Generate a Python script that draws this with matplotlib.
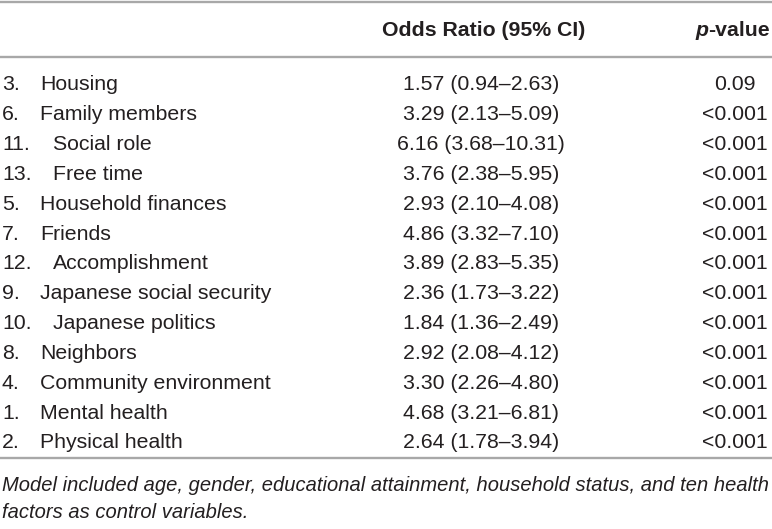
"""Odds ratio table redrawn as a matplotlib figure."""

import matplotlib.pyplot as plt

item_num = [3, 6, 11, 13, 5, 7, 12, 9, 10, 8, 4, 1, 2]
items = [
    "Housing", "Family members", "Social role", "Free time",
    "Household finances", "Friends", "Accomplishment",
    "Japanese social security", "Japanese politics", "Neighbors",
    "Community environment", "Mental health", "Physical health",
]
odds = [1.57, 3.29, 6.16, 3.76, 2.93, 4.86, 3.89, 2.36, 1.84, 2.92, 3.30, 4.68, 2.64]
ci_low = [0.94, 2.13, 3.68, 2.38, 2.10, 3.32, 2.83, 1.73, 1.36, 2.08, 2.26, 3.21, 1.78]
ci_high = [2.63, 5.09, 10.31, 5.95, 4.08, 7.10, 5.35, 3.22, 2.49, 4.12, 4.80, 6.81, 3.94]
p_values = ["0.09"] + ["<0.001"] * 12

footnote = ("Model included age, gender, educational attainment, household status, and ten health\n"
            "factors as control variables.")

W, H = 772, 529
TXT = "#231f20"
RULE = "#a8a8a8"
FS = 15.3

plt.rcParams["font.family"] = ["Liberation Sans", "DejaVu Sans"]

fig = plt.figure(figsize=(W / 100, H / 100), dpi=100)
ax = fig.add_axes([0, 0, 1, 1])
ax.set_xlim(0, W)
ax.set_ylim(H, 0)
ax.set_axis_off()

# horizontal rules
for y in (1.5, 56.5, 458):
    ax.plot([0, W], [y, y], color=RULE, lw=1.7, solid_capstyle="butt")

# header
hy = 30
ax.text(484, hy, "Odds Ratio (95% CI)", ha="center", va="center",
        fontsize=FS, fontweight="bold", color=TXT)
val = ax.text(770, hy + 6, "-value", ha="right", va="baseline", fontsize=FS,
              fontweight="bold", color=TXT)
ax.annotate("p", xy=(0, hy + 6), xycoords=(val, "data"), ha="right",
            va="baseline", fontsize=FS, fontweight="bold", style="italic", color=TXT)

# body rows
y0, step = 85, 29.83
for i, (n, name) in enumerate(zip(item_num, items)):
    y = y0 + i * step
    ax.text(2, y, f"{n}.", ha="left", va="center", fontsize=FS, color=TXT)
    name_x = 40 if n < 10 else 53
    ax.text(name_x, y, name, ha="left", va="center", fontsize=FS, color=TXT)
    ax.text(481, y, f"{odds[i]:.2f} ({ci_low[i]:.2f}\u2013{ci_high[i]:.2f})",
            ha="center", va="center", fontsize=FS, color=TXT)
    ax.text(735, y, p_values[i], ha="center", va="center", fontsize=FS, color=TXT)

ax.text(2, 499, footnote, ha="left", va="center", fontsize=14.5, style="italic",
        color=TXT, linespacing=1.5)

fig.savefig("out.png", dpi=100)
